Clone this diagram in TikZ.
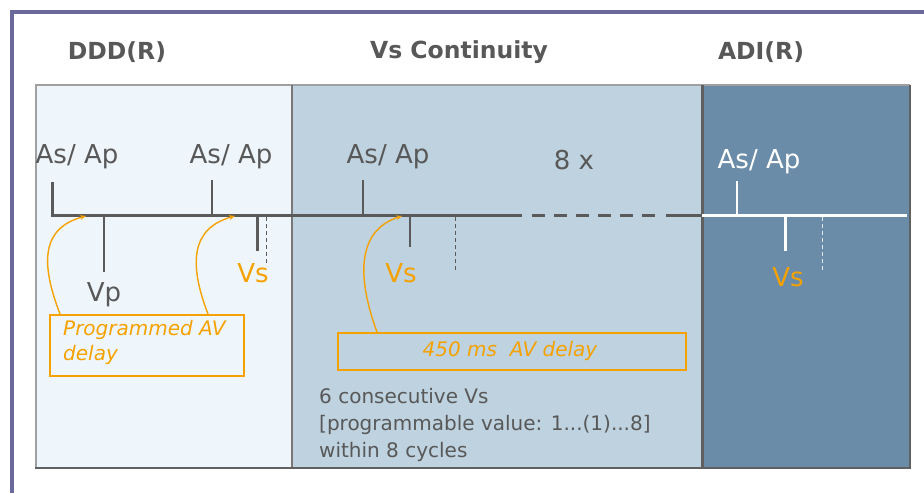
\documentclass[tikz,border=0pt]{standalone}
\usepackage{fontspec}
\setmainfont{DejaVu Sans}
\usetikzlibrary{arrows.meta}
\definecolor{frameC}{RGB}{105,105,155}
\definecolor{dddfill}{RGB}{238,246,252}
\definecolor{vsfill}{RGB}{190,210,223}
\definecolor{adifill}{RGB}{106,140,168}
\definecolor{lineC}{RGB}{90,90,90}
\definecolor{txtC}{RGB}{88,88,88}
\definecolor{orangeC}{RGB}{245,162,0}
\definecolor{borderC}{RGB}{120,120,120}
\tikzset{
  titlefont/.style={font=\bfseries\fontsize{23.5}{28}\selectfont, text=txtC},
  lbl/.style={font=\fontsize{26}{30}\selectfont, text=txtC, inner sep=0pt},
  wlbl/.style={lbl, text=white},
  olbl/.style={lbl, text=orangeC},
  tl/.style={draw=lineC, line width=3pt},
  tlw/.style={draw=white, line width=3pt},
  tick/.style={draw=lineC, line width=2pt},
  tickthick/.style={draw=lineC, line width=3pt},
  wtick/.style={draw=white, line width=2pt},
  wtickthick/.style={draw=white, line width=3pt},
  dline/.style={draw=lineC, line width=1pt, dash pattern=on 4pt off 3pt},
  wdline/.style={draw=white!80!adifill, line width=1pt, dash pattern=on 4pt off 3pt},
  obox/.style={draw=orangeC, line width=2pt, text=orangeC, inner sep=0pt,
     font=\itshape\fontsize{20}{25}\selectfont},
  otext/.style={text=orangeC, font=\itshape\fontsize{20}{25}\selectfont, inner sep=0pt},
  oarrow/.style={draw=orangeC, line width=1.4pt, -{Stealth[length=6pt,width=5pt]}},
  btext/.style={font=\fontsize{20}{27}\selectfont, text=txtC, align=left, inner sep=0pt},
}
\begin{document}
\begin{tikzpicture}[x=1pt,y=-1pt]
\useasboundingbox (0,0) rectangle (924,493);
\fill[white] (0,0) rectangle (924,493);
% outer frame
\draw[frameC, line width=4pt] (12,493) -- (12,12) -- (924,12);
% panels
\fill[dddfill] (36,85) rectangle (292,468);
\fill[vsfill] (292,85) rectangle (702,468);
\fill[adifill] (702,85) rectangle (910,468);
\draw[borderC!70, line width=1.2pt] (36,468) -- (36,85) -- (910,85);
\draw[borderC, line width=2pt] (292,85) -- (292,468);
\draw[borderC!80!black, line width=3pt] (702,85) -- (702,468);
\draw[borderC!80!black, line width=2pt] (910,85) -- (910,468);
\draw[borderC!80!black, line width=2.5pt] (35,468) -- (911,468);
% titles
\node[titlefont] (tddd) at (117,52) {DDD(R)};
\node[titlefont] (tvs) at (459,52) {Vs Continuity};
\node[titlefont] (tadi) at (761,52) {ADI(R)};
% timeline
\coordinate (t0) at (52,215);
\coordinate (t1) at (522,215);
\coordinate (t1b) at (532,215);
\coordinate (t2a) at (655,215);
\coordinate (t2) at (666,215);
\coordinate (t3) at (702,215);
\coordinate (t4) at (907,215);
\draw[tl] (t0) -- (t1);
\draw[tl, dash pattern=on 13pt off 9pt] (t1b) -- (t2a);
\draw[tl] (t2) -- (t3);
\draw[tlw] (t3) -- (t4);
% ticks DDD
\draw[tickthick] (52,182) -- (52,216.5);
\draw[tick] (212,180) -- (212,215);
\draw[tick] (104,215) -- (104,272);
\draw[tickthick] (257,215) -- (257,251);
\draw[dline] (266,217) -- (266,266);
% ticks Vs continuity
\draw[tick] (363,180) -- (363,215);
\draw[tick] (410,215) -- (410,247);
\draw[dline] (455,217) -- (455,272);
% ticks ADI
\draw[wtick] (737,181) -- (737,215);
\draw[wtickthick] (785,215) -- (785,251);
\draw[wdline] (822,217) -- (822,270);
% labels
\node[lbl] (a1) at (77,157) {As/ Ap};
\node[lbl] (a2) at (231,157) {As/ Ap};
\node[lbl] (a3) at (388,157) {As/ Ap};
\node[lbl] (rep) at (574,160) {8 x};
\node[wlbl] (a4) at (759,162) {As/ Ap};
\node[lbl] (vp) at (104,295) {Vp};
\node[olbl] (vs1) at (253,273) {Vs};
\node[olbl] (vs2) at (401,273) {Vs};
\node[olbl] (vs3) at (788,277) {Vs};
% boxes
\node[obox, minimum width=194pt, minimum height=61pt, anchor=north west] (box1) at (49,314) {};
\node[otext, align=left, anchor=north west] (box1t) at (63,320) {Programmed AV\\delay};
\node[obox, minimum width=348pt, minimum height=37pt, anchor=north west] (box2) at (337,332) {};
\node[otext] (box2t) at (510,351) {450 ms\ \ AV delay};
% arrows
\coordinate (s1) at (60,314);
\coordinate (e1) at (86,216);
\coordinate (s2) at (208,314);
\coordinate (e2) at (235,216);
\coordinate (s3) at (377,332);
\coordinate (e3) at (402,216);
\draw[oarrow] (s1) .. controls (40,262) and (42,228) .. (e1);
\draw[oarrow] (s2) .. controls (188,262) and (192,228) .. (e2);
\draw[oarrow] (s3) .. controls (356,275) and (358,230) .. (e3);
% bottom text
\node[btext, anchor=north west] (note) at (319,388) {6 consecutive Vs\\{[programmable value: 1...(1)...8]}\\within 8 cycles};
\end{tikzpicture}
\end{document}
